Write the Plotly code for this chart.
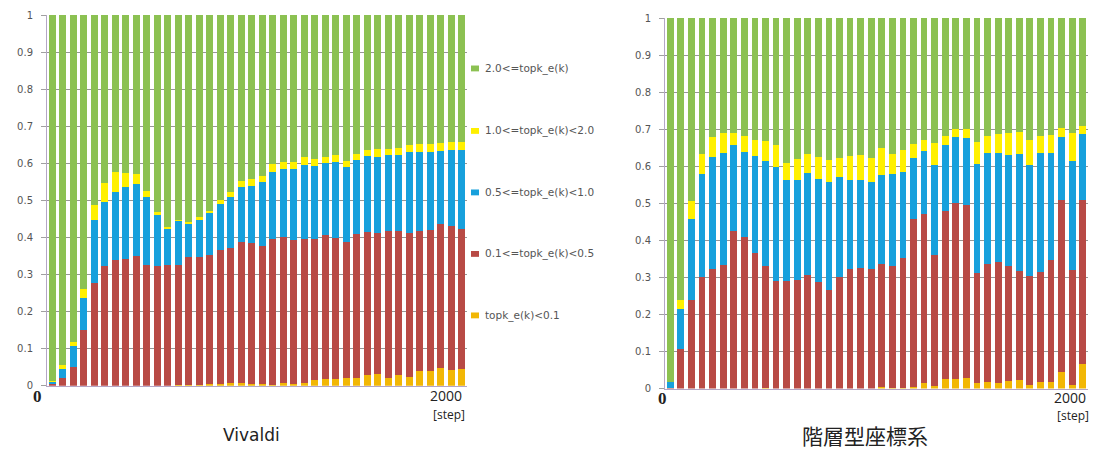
import numpy as np
import plotly.graph_objects as go

# simulation steps (one bar every 50 steps)
steps = list(range(50, 2001, 50))

# bins of topk_e(k), bottom to top
bin_labels = ["topk_e(k)<0.1", "0.1<=topk_e(k)<0.5", "0.5<=topk_e(k)<1.0",
              "1.0<=topk_e(k)<2.0", "2.0<=topk_e(k)"]
bin_colors = ["#f2b705", "#b84a45", "#17a0dc", "#fff000", "#8cc152"]

# Vivaldi: cumulative fraction of k with topk_e(k) below each threshold
viv_lt_0_1 = [0, 0, 0, 0, 0, 0, 0, 0, 0, 0, 0, 0, 0.002, 0.003, 0.003, 0.004, 0.004, 0.006, 0.006, 0.004,
              0.004, 0.002, 0.006, 0.004, 0.007, 0.015, 0.018, 0.018, 0.020, 0.022, 0.028, 0.032, 0.022, 0.028,
              0.024, 0.041, 0.039, 0.048, 0.042, 0.044]
viv_lt_0_5 = [0.004, 0.020, 0.051, 0.149, 0.276, 0.322, 0.339, 0.342, 0.350, 0.326, 0.323, 0.326, 0.326, 0.346,
              0.348, 0.354, 0.365, 0.371, 0.387, 0.384, 0.378, 0.397, 0.402, 0.394, 0.396, 0.397, 0.408, 0.398,
              0.387, 0.410, 0.415, 0.413, 0.417, 0.417, 0.411, 0.417, 0.419, 0.437, 0.432, 0.422]
viv_lt_1_0 = [0.013, 0.044, 0.107, 0.237, 0.448, 0.496, 0.522, 0.535, 0.543, 0.510, 0.461, 0.422, 0.446, 0.438,
              0.448, 0.465, 0.491, 0.509, 0.537, 0.539, 0.550, 0.578, 0.584, 0.585, 0.596, 0.593, 0.600, 0.603,
              0.589, 0.609, 0.619, 0.616, 0.622, 0.623, 0.630, 0.632, 0.632, 0.634, 0.637, 0.637]
viv_lt_2_0 = [0.014, 0.055, 0.117, 0.261, 0.487, 0.548, 0.576, 0.574, 0.570, 0.526, 0.470, 0.429, 0.448, 0.443,
              0.455, 0.472, 0.502, 0.524, 0.552, 0.559, 0.565, 0.597, 0.603, 0.604, 0.617, 0.613, 0.617, 0.622,
              0.606, 0.626, 0.637, 0.639, 0.639, 0.641, 0.650, 0.652, 0.652, 0.655, 0.657, 0.657]

# hierarchical coordinate system: same cumulative fractions
hie_lt_0_1 = [0, 0, 0, 0, 0, 0, 0, 0, 0, 0.002, 0, 0, 0, 0, 0, 0, 0, 0, 0, 0,
              0.004, 0.001, 0.002, 0.004, 0.014, 0.008, 0.027, 0.027, 0.029, 0.014, 0.017, 0.015, 0.020, 0.023,
              0.011, 0.018, 0.019, 0.046, 0.010, 0.067]
hie_lt_0_5 = [0.003, 0.106, 0.238, 0.300, 0.322, 0.333, 0.426, 0.410, 0.365, 0.330, 0.291, 0.290, 0.294, 0.306,
              0.287, 0.265, 0.302, 0.323, 0.326, 0.324, 0.336, 0.330, 0.353, 0.457, 0.472, 0.361, 0.478, 0.502,
              0.495, 0.313, 0.336, 0.341, 0.330, 0.317, 0.304, 0.315, 0.348, 0.508, 0.321, 0.508]
hie_lt_1_0 = [0.018, 0.214, 0.457, 0.578, 0.624, 0.637, 0.657, 0.639, 0.629, 0.615, 0.597, 0.563, 0.563, 0.583,
              0.565, 0.557, 0.571, 0.563, 0.563, 0.557, 0.577, 0.578, 0.584, 0.622, 0.641, 0.604, 0.657, 0.678,
              0.677, 0.606, 0.637, 0.635, 0.630, 0.632, 0.603, 0.635, 0.635, 0.678, 0.613, 0.687]
hie_lt_2_0 = [0.018, 0.240, 0.507, 0.632, 0.678, 0.691, 0.691, 0.681, 0.672, 0.667, 0.658, 0.609, 0.620, 0.632,
              0.626, 0.617, 0.623, 0.628, 0.630, 0.622, 0.650, 0.632, 0.643, 0.659, 0.672, 0.663, 0.681, 0.700,
              0.700, 0.665, 0.683, 0.687, 0.690, 0.693, 0.672, 0.683, 0.684, 0.702, 0.691, 0.709]

panel_titles = ["Vivaldi", "階層型座標系"]

W, H = 1104, 461


def segments(c01, c05, c10, c20):
    cum = np.array([np.zeros(len(c01)), c01, c05, c10, c20, np.ones(len(c01))])
    return np.diff(cum, axis=0)


fig = go.Figure()
panels = [(segments(viv_lt_0_1, viv_lt_0_5, viv_lt_1_0, viv_lt_2_0), "x", "y"),
          (segments(hie_lt_0_1, hie_lt_0_5, hie_lt_1_0, hie_lt_2_0), "x2", "y2")]
for segs, xa, ya in panels:
    for k in range(5):
        fig.add_trace(go.Bar(x=steps, y=segs[k], marker=dict(color=bin_colors[k], line=dict(width=0)),
                             name=bin_labels[k], showlegend=False, xaxis=xa, yaxis=ya))

axis_line = "#b4a6c6"
grid = "#969696"
xcommon = dict(range=[25, 2025], showticklabels=False, showgrid=False, zeroline=False,
               showline=True, linecolor=axis_line, linewidth=1, ticks="")
ycommon = dict(range=[0, 1.001], dtick=0.1, showgrid=True, gridcolor=grid, gridwidth=1,
               zeroline=False, showline=True, linecolor=axis_line, linewidth=1,
               ticks="outside", ticklen=5, tickcolor="#a0a0a0", ticklabelstandoff=6,
               tickfont=dict(family="DejaVu Sans", size=10, color="#555555"))

fig.update_layout(
    width=W, height=H, margin=dict(l=0, r=0, t=0, b=0),
    paper_bgcolor="white", plot_bgcolor="white",
    barmode="stack", bargap=0.36,
    xaxis=dict(domain=[47 / W, 467 / W], anchor="y", **xcommon),
    yaxis=dict(domain=[(H - 390) / H, (H - 10) / H], anchor="x", **ycommon),
    xaxis2=dict(domain=[665 / W, 1088 / W], anchor="y2", **xcommon),
    yaxis2=dict(domain=[(H - 393) / H, (H - 13) / H], anchor="x2", **ycommon),
)

ann = []
# legend between the panels (top bin first)
legend_y = [65, 129, 192, 255, 318]
for k, yy in zip(range(4, -1, -1), legend_y):
    fig.add_shape(type="rect", xref="paper", yref="paper",
                  x0=471 / W, x1=479 / W, y0=(H - yy - 3) / H, y1=(H - yy + 3) / H,
                  fillcolor=bin_colors[k], line=dict(width=0))
    ann.append(dict(x=483 / W, y=(H - yy) / H, text=bin_labels[k], xanchor="left", yanchor="middle",
                    font=dict(family="DejaVu Sans", size=10.5, color="#555555")))

# axis end labels and panel titles
for (x0, y0, x2000, title_x, title) in [(37, 401, 446, 252, panel_titles[0]),
                                         (662, 403, 1070, 865, panel_titles[1])]:
    ann.append(dict(x=x0 / W, y=(H - y0) / H, text="<b>0</b>", xanchor="center", yanchor="middle",
                    font=dict(family="Liberation Serif", size=17, color="#222222")))
    ann.append(dict(x=x2000 / W, y=(H - y0 + 1) / H, text="2000", xanchor="center", yanchor="middle",
                    font=dict(family="Open Sans", size=14, color="#222222")))
    ann.append(dict(x=(x2000 + 3) / W, y=(H - y0 - 18) / H, text="[step]", xanchor="center", yanchor="middle",
                    font=dict(family="Open Sans", size=12, color="#222222")))
    if title == "Vivaldi":
        tfont = dict(family="DejaVu Sans", size=17, color="#222222")
    else:
        tfont = dict(family="Noto Sans CJK JP", size=21, color="#222222")
    ann.append(dict(x=title_x / W, y=(H - 440) / H, text=title, xanchor="center", yanchor="middle",
                    font=tfont))

for a in ann:
    a.update(xref="paper", yref="paper", showarrow=False)
fig.update_layout(annotations=ann)

fig.write_html("out.html")
